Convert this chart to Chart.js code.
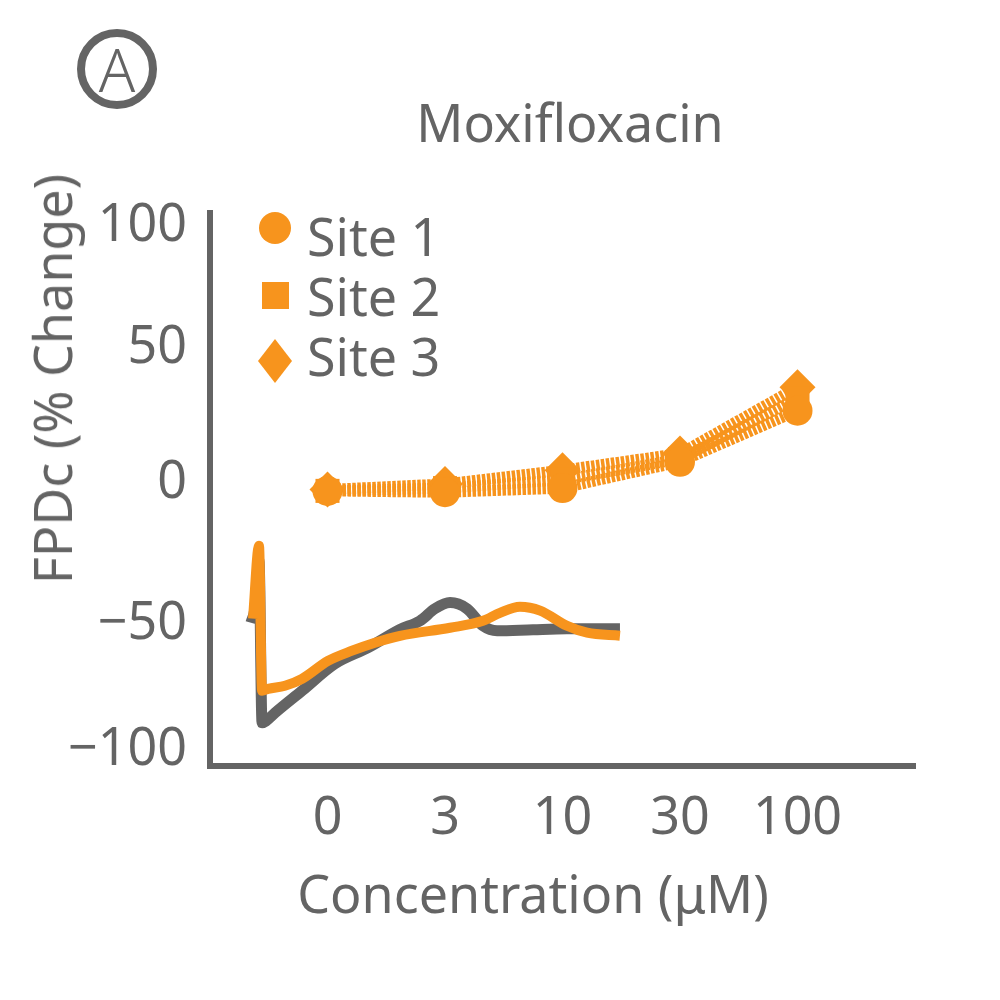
<!DOCTYPE html>
<html>
<head>
<meta charset="utf-8">
<script src="https://cdn.jsdelivr.net/npm/chart.js@4.4.1/dist/chart.umd.min.js"></script>
<style>
  html, body { margin: 0; padding: 0; background: #ffffff; }
  #wrap { position: relative; width: 1000px; height: 1000px; font-family: "Noto Sans", sans-serif; color: #646464; }
  #c { position: absolute; left: 0; top: 0; }
  .txt { position: absolute; font-size: 52px; line-height: 52px; white-space: nowrap; }
  #title { left: 570px; top: 96px; transform: translateX(-50%); }
  #ytitle { left: 52px; top: 379px; transform: translate(-50%, -50%) rotate(-90deg); }
  #xtitle { left: 533px; top: 867px; transform: translateX(-50%); }
  #badge { position: absolute; left: 77px; top: 29px; width: 64px; height: 64px; border: 8px solid #646464; border-radius: 50%; text-align: center; font-size: 60px; line-height: 64px; font-weight: 300; }
  .lg { position: absolute; left: 307px; }
  .mk { position: absolute; background: #F7941D; }
</style>
</head>
<body>
<div id="wrap">
  <canvas id="c" width="1000" height="1000"></canvas>
  <div class="txt" id="badge">A</div>
  <div class="txt" id="title">Moxifloxacin</div>
  <div class="txt" id="ytitle">FPDc (% Change)</div>
  <div class="txt" id="xtitle">Concentration (μM)</div>
  <div class="mk" style="left:259px;top:212px;width:32px;height:32px;border-radius:50%;"></div>
  <div class="mk" style="left:262px;top:282px;width:27px;height:27px;"></div>
  <div class="mk" style="left:258px;top:339px;width:34px;height:44px;clip-path:polygon(50% 0,100% 50%,50% 100%,0 50%);"></div>
  <div class="txt lg" id="lg1" style="top:210px;">Site 1</div>
  <div class="txt lg" id="lg2" style="top:270px;">Site 2</div>
  <div class="txt lg" id="lg3" style="top:330px;">Site 3</div>
</div>
<script>
// ---- data ----
const concLabels = ['0', '3', '10', '30', '100'];
const seriesNames = ['Site 1', 'Site 2', 'Site 3'];
const site1 = [-0.5, -1, 0.5, 10, 28.5];
const site2 = [-0.5, 0.5, 3.5, 11, 33];
const site3 = [0, 2, 7, 13, 37];
// inset field-potential traces (x in category-index units, y in % units)
const grayTraceX = [-0.651, -0.617, -0.583, -0.557, -0.523, -0.447, -0.217, 0.064, 0.345, 0.617, 0.787, 0.915, 1.043, 1.187, 1.323, 1.443, 1.749, 2.038, 2.489];
const grayTraceY = [-48.2, -42.8, -25.7, -84.4, -83.7, -80.8, -72.8, -63.0, -57.2, -50.6, -47.5, -43.1, -40.9, -43.1, -49.3, -51.1, -50.7, -50.4, -50.4];
const orangeTraceX = [-0.634, -0.583, -0.557, -0.506, -0.362, -0.217, 0.004, 0.209, 0.404, 0.617, 1.043, 1.323, 1.468, 1.638, 1.809, 2.038, 2.209, 2.489];
const orangeTraceY = [-46.7, -20.3, -72.8, -72.1, -71.0, -68.5, -62.0, -58.3, -55.4, -52.9, -50.0, -47.5, -44.6, -42.4, -43.8, -49.3, -51.8, -52.9];
const yTicks = [-100, -50, 0, 50, 100];

const ORANGE = '#F7941D';
const GRAY = '#646464';
// vertical nudges of the y tick labels (px), matching the reference typesetting
const yLabelNudge = [-16, -4, -6, -3, 13];

const toXY = (xs, ys) => xs.map((x, i) => ({x: x, y: ys[i]}));
const siteXY = (vals) => vals.map((v, i) => ({x: i, y: v}));

const siteStyle = (name, vals, style, r) => ({
  label: name,
  data: siteXY(vals),
  borderColor: ORANGE,
  backgroundColor: ORANGE,
  borderWidth: 11,
  borderDash: [3.5, 1.5],
  pointStyle: style,
  pointRadius: r,
  pointHoverRadius: r,
  pointBorderWidth: 0,
  pointBackgroundColor: ORANGE,
  tension: 0,
  clip: false
});

const traceStyle = (label, xs, ys, color, w) => ({
  label: label,
  data: toXY(xs, ys),
  borderColor: color,
  backgroundColor: color,
  borderWidth: w,
  pointRadius: 0,
  cubicInterpolationMode: 'monotone',
  borderJoinStyle: 'round',
  borderCapStyle: 'butt',
  clip: false
});

new Chart(document.getElementById('c'), {
  type: 'line',
  data: {
    datasets: [
      siteStyle(seriesNames[0], site1, 'circle', 15),
      siteStyle(seriesNames[1], site2, 'rect', 17),
      siteStyle(seriesNames[2], site3, 'rectRot', 18),
      traceStyle('trace orange', orangeTraceX, orangeTraceY, ORANGE, 10),
      traceStyle('trace gray', grayTraceX, grayTraceY, GRAY, 11)
    ]
  },
  options: {
    responsive: false,
    animation: false,
    events: [],
    layout: { padding: { top: 213, right: 85, left: 0, bottom: 0 } },
    plugins: { legend: { display: false }, tooltip: { enabled: false }, title: { display: false } },
    scales: {
      x: {
        type: 'linear',
        min: -1, max: 5,
        afterBuildTicks: (s) => { s.ticks = concLabels.map((_, i) => ({value: i})); },
        afterFit: (s) => { s.height = 234; },
        grid: { display: false, drawTicks: false },
        border: { display: true, color: GRAY, width: 6 },
        ticks: {
          padding: 22,
          color: GRAY,
          font: { family: 'Noto Sans', size: 52 },
          maxRotation: 0,
          autoSkip: false,
          callback: (v) => concLabels[v] !== undefined ? concLabels[v] : ''
        }
      },
      y: {
        type: 'linear',
        min: -100, max: 100,
        afterBuildTicks: (s) => { s.ticks = yTicks.map(v => ({value: v})); },
        afterFit: (s) => { s.width = 210; },
        afterUpdate: (s) => {
          const orig = s._computeLabelItems;
          if (typeof orig !== 'function' || s._nudged) return;
          s._nudged = true;
          s._computeLabelItems = function (ca) {
            const items = orig.call(this, ca);
            items.forEach((it, i) => {
              if (it && it.options && it.options.translation && yLabelNudge[i] !== undefined) {
                it.options.translation[1] += yLabelNudge[i];
              }
            });
            return items;
          };
          s._labelItems = null;
        },
        grid: { display: false, drawTicks: false },
        border: { display: true, color: GRAY, width: 6 },
        ticks: {
          padding: 23,
          color: GRAY,
          font: { family: 'Noto Sans', size: 52 },
          callback: (v) => v < 0 ? '\u2212' + Math.abs(v) : String(v)
        }
      }
    }
  }
});
</script>
</body>
</html>
